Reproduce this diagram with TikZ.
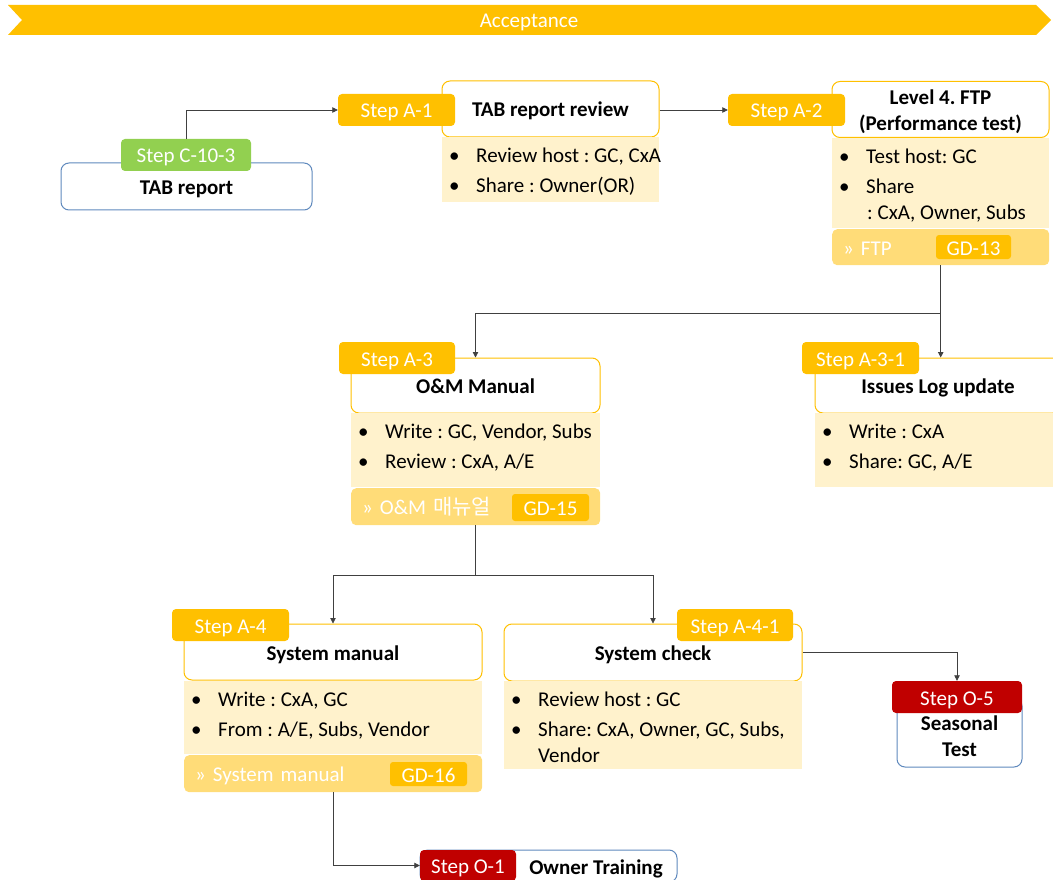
\documentclass[tikz,border=0pt]{standalone}
\usepackage{fontspec}
\setmainfont{Carlito}
\newfontfamily\krfont{Noto Sans CJK KR}
\usetikzlibrary{arrows.meta}
\definecolor{gold}{HTML}{FFC000}
\definecolor{lightgold}{HTML}{FFF2CC}
\definecolor{gdyellow}{HTML}{FFDC78}
\definecolor{boxblue}{HTML}{5F89BD}
\definecolor{stepred}{HTML}{C00000}
\definecolor{stepgreen}{HTML}{92D050}
\definecolor{connc}{HTML}{404040}
\newcommand\stepbul{\makebox[27pt][l]{\textbullet}}
\frenchspacing
\begin{document}
\frenchspacing
\begin{tikzpicture}[x=1pt,y=-1pt,
  node font=\fontsize{21}{26}\selectfont\frenchspacing,
  oneline/.style={text height=16pt, text depth=0pt},
  titlebox/.style={draw=gold, fill=white, line width=1pt, rounded corners=8pt, font=\bfseries, inner sep=0pt, oneline},
  bluebox/.style={draw=boxblue, fill=white, line width=1pt, rounded corners=8pt, font=\bfseries, inner sep=0pt, oneline},
  stepbox/.style={rounded corners=4pt, text=white, inner sep=0pt, minimum height=32, oneline},
  infobg/.style={fill=lightgold, inner sep=0pt, anchor=north west},
  infotext/.style={anchor=north west, inner sep=0pt, align=left, xshift=7pt, yshift=-10.5pt},
  gdbar/.style={fill=gdyellow, rounded corners=5pt, text=white, inner xsep=11pt, inner ysep=0pt, align=left, anchor=north west, oneline},
  badge/.style={fill=gold, rounded corners=3pt, text=white, inner sep=0pt, oneline},
  conn/.style={draw=connc, line width=0.8pt, -{Triangle[length=5.5pt,width=5.5pt]}}
]
\useasboundingbox (0,0) rectangle (1053,880);

% banner
\fill[gold] (8,5) -- (1036,5) -- (1051,20) -- (1036,35) -- (8,35) -- (22,20) -- cycle;
\node[text=white, oneline] (banner) at (529,20) {Acceptance};

% TAB report
\node[bluebox, minimum width=251, minimum height=47] (tabrep) at (186.5,186.5) {TAB report};
\node[stepbox, fill=stepgreen, minimum width=130] (sC) at (186,155) {Step C-10-3};

% A-1
\node[titlebox, minimum width=217, minimum height=56] (r1) at (550.5,109) {TAB report review};
\node[infobg, minimum width=217, minimum height=65] (i1) at (442,137) {};
\node[infotext] (i1t) at (i1.north west) {\mbox{\stepbul Review host : GC, CxA}\\[4pt]\mbox{\stepbul Share : Owner(OR)}};
\node[stepbox, fill=gold, minimum width=117] (sA1) at (396.5,110) {Step A-1};

% A-2
\node[titlebox, minimum width=217, minimum height=56] (ftp) at (940.5,109.5) {};
\node[font=\bfseries, align=center, inner sep=0pt] (ftpt) at (940.5,112) {Level 4. FTP\\(Performance test)};
\node[infobg, minimum width=217, minimum height=90] (i2) at (832,138) {};
\node[infotext] (i2t) at (i2.north west) {\mbox{\stepbul Test host: GC}\\[4pt]\mbox{\stepbul Share}\\\mbox{\hspace*{28pt}: CxA, Owner, Subs}};
\node[gdbar, text width=195, minimum height=36] (ftpgd) at (832,229) {» FTP};
\node[badge, minimum width=75, minimum height=24] (gd13) at (973.5,247) {GD-13};
\node[stepbox, fill=gold, minimum width=117] (sA2) at (786.5,110) {Step A-2};

% A-3
\node[titlebox, minimum width=249, minimum height=55] (om) at (475.5,385.5) {O\&M Manual};
\node[infobg, minimum width=249, minimum height=74] (i3) at (351,413) {};
\node[infotext] (i3t) at (i3.north west) {\mbox{\stepbul Write : GC, Vendor, Subs}\\[4pt]\mbox{\stepbul Review : CxA, A/E}};
\node[gdbar, text width=227, minimum height=37] (omgd) at (351,488) {» O\&M {\krfont 매뉴얼}};
\node[badge, minimum width=77, minimum height=27] (gd15) at (550.5,507.5) {GD-15};
\node[stepbox, fill=gold, minimum width=116] (sA3) at (397,358) {Step A-3};

% A-3-1
\node[titlebox, minimum width=246, minimum height=55] (iss) at (938,385.5) {Issues Log update};
\node[infobg, minimum width=246, minimum height=74] (i4) at (815,413) {};
\node[infotext] (i4t) at (i4.north west) {\mbox{\stepbul Write : CxA}\\[4pt]\mbox{\stepbul Share: GC, A/E}};
\node[stepbox, fill=gold, minimum width=117] (sA31) at (860.5,358) {Step A-3-1};

% A-4
\node[titlebox, minimum width=298, minimum height=56] (sm) at (333,652) {System manual};
\node[infobg, minimum width=298, minimum height=73] (i5) at (184,681) {};
\node[infotext] (i5t) at (i5.north west) {\mbox{\stepbul Write : CxA, GC}\\[4pt]\mbox{\stepbul From : A/E, Subs, Vendor}};
\node[gdbar, text width=276, minimum height=37] (smgd) at (184,755) {» System manual};
\node[badge, minimum width=77, minimum height=24] (gd16) at (428.5,774) {GD-16};
\node[stepbox, fill=gold, minimum width=117] (sA4) at (230.5,625) {Step A-4};

% A-4-1
\node[titlebox, minimum width=298, minimum height=57] (sc) at (653,652.5) {System check};
\node[infobg, minimum width=298, minimum height=88] (i6) at (504,681) {};
\node[infotext] (i6t) at (i6.north west) {\mbox{\stepbul Review host : GC}\\[4pt]\mbox{\stepbul Share: CxA, Owner, GC, Subs,}\\\mbox{\hspace*{27pt}Vendor}};
\node[stepbox, fill=gold, minimum width=116] (sA41) at (735,625) {Step A-4-1};

% O-5
\node[bluebox, minimum width=125, minimum height=69] (sea) at (959.5,732.5) {};
\node[font=\bfseries, align=center, inner sep=0pt] (seat) at (959.5,736) {Seasonal\\Test};
\node[stepbox, fill=stepred, minimum width=130] (sO5) at (957,697) {Step O-5};

% O-1
\node[bluebox, minimum width=257, minimum height=32] (own) at (548.5,866) {};
\node[font=\bfseries, inner sep=0pt, oneline] (ownt) at (596,866) {Owner Training};
\node[stepbox, fill=stepred, minimum width=96, minimum height=31] (sO1) at (468,865.5) {Step O-1};

% connectors
\draw[conn] (sC.north) |- (sA1.west);
\draw[conn] (r1.east |- sA2.west) -- (sA2.west);
\draw[conn] (ftpgd.south) -- ++(0,48) -| (om.north);
\draw[conn] (ftpgd.south) -- (ftpgd.south |- iss.north);
\draw[conn] (omgd.south) -- ++(0,50) -| (sm.north);
\draw[conn] (omgd.south) -- ++(0,50) -| (sc.north);
\draw[conn] (sc.east) -| (sO5.north);
\draw[conn] (smgd.south) |- (sO1.west);
\end{tikzpicture}
\end{document}
